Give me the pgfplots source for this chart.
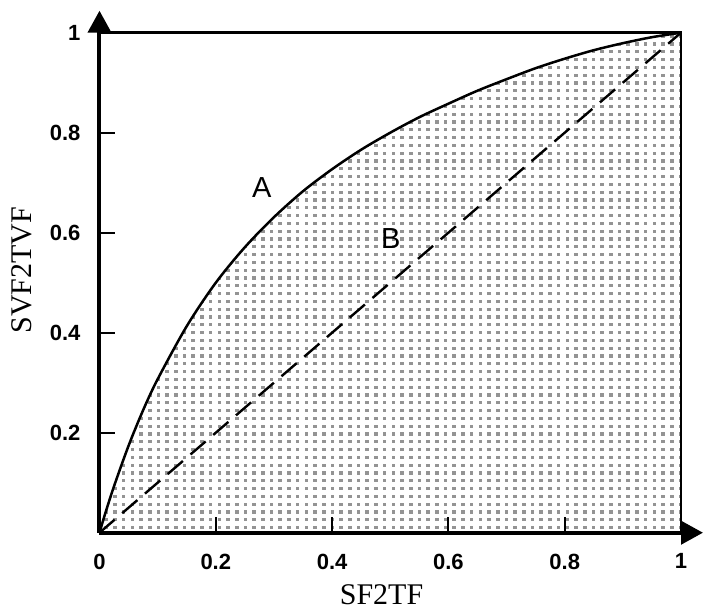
\documentclass[border=0pt]{standalone}
\usepackage{pgfplots}
\pgfplotsset{compat=1.18}
\usepackage{fontspec}
\setmainfont{Liberation Serif}
\newfontfamily\arial{Liberation Sans}
\usetikzlibrary{arrows.meta,patterns,calc}
\pgfdeclarepatternformonly{sqdots}{\pgfqpoint{-1pt}{-1pt}}{\pgfqpoint{5pt}{5pt}}{\pgfqpoint{4.35pt}{3.9pt}}{\pgfpathrectangle{\pgfqpoint{0pt}{0pt}}{\pgfqpoint{1.8pt}{1.6pt}}\pgfusepath{fill}}
\pgfplotstableread{
x y
0 0
0.01 0.039
0.025 0.093
0.05 0.174
0.075 0.245
0.1 0.307
0.15 0.413
0.2 0.500
0.25 0.571
0.3 0.631
0.35 0.683
0.4 0.727
0.45 0.766
0.5 0.800
0.55 0.831
0.6 0.858
0.65 0.884
0.7 0.907
0.75 0.929
0.8 0.948
0.85 0.965
0.9 0.979
0.95 0.991
1 1
}\curveA
\begin{document}
\begin{tikzpicture}
\begin{axis}[
  scale only axis, width=290.75pt, height=250pt,
  xmin=0, xmax=1, ymin=0, ymax=1,
  clip=false,
  axis on top,
  axis lines=left,
  axis line style={line width=2pt},
  x axis line style={-{Triangle[length=11pt,width=11.5pt]}, shorten >=-11pt},
  y axis line style={-{Triangle[length=11pt,width=11.5pt]}, shorten >=-11pt},
  xtick={0,0.2,0.4,0.6,0.8,1},
  ytick={0.2,0.4,0.6,0.8,1},
  tick align=inside,
  major tick length=8pt,
  tick style={line width=1pt, black},
  /pgf/number format/assume math mode=true,
  xticklabel style={font=\arial\bfseries\fontsize{11}{13}\selectfont, yshift=-7pt},
  yticklabel style={font=\arial\bfseries\fontsize{11}{13}\selectfont, xshift=-6pt},
  xlabel={SF2TF}, ylabel={SVF2TVF},
  xlabel style={font=\fontsize{15}{18}\selectfont, at={($(axis description cs:0.485,0)+(0,-31pt)$)}, anchor=center},
  ylabel style={font=\fontsize{15}{18}\selectfont, at={($(axis description cs:0,0.525)+(-38.75pt,0)$)}, anchor=center},
]
\addplot[draw=none, pattern=sqdots, pattern color=black!42, smooth] table[x=x,y=y] {\curveA} -- (axis cs:1,0) \closedcycle;
\addplot[black, line width=1.2pt, dash pattern=on 10pt off 5pt] coordinates {(0,0) (1,1)};
\addplot[black, line width=1.25pt, smooth] table[x=x,y=y] {\curveA};
\draw[black, line width=1.2pt] (axis cs:0,1) -- (axis cs:1,1) -- (axis cs:1,0);
\node[font=\arial\fontsize{14.5}{17}\selectfont] at (axis cs:0.279,0.691) {A};
\node[font=\arial\fontsize{14.5}{17}\selectfont] at (axis cs:0.501,0.589) {B};
\path (axis cs:-0.1711,-0.1646) rectangle (axis cs:1.055,1.0654);
\end{axis}
\end{tikzpicture}
\end{document}
